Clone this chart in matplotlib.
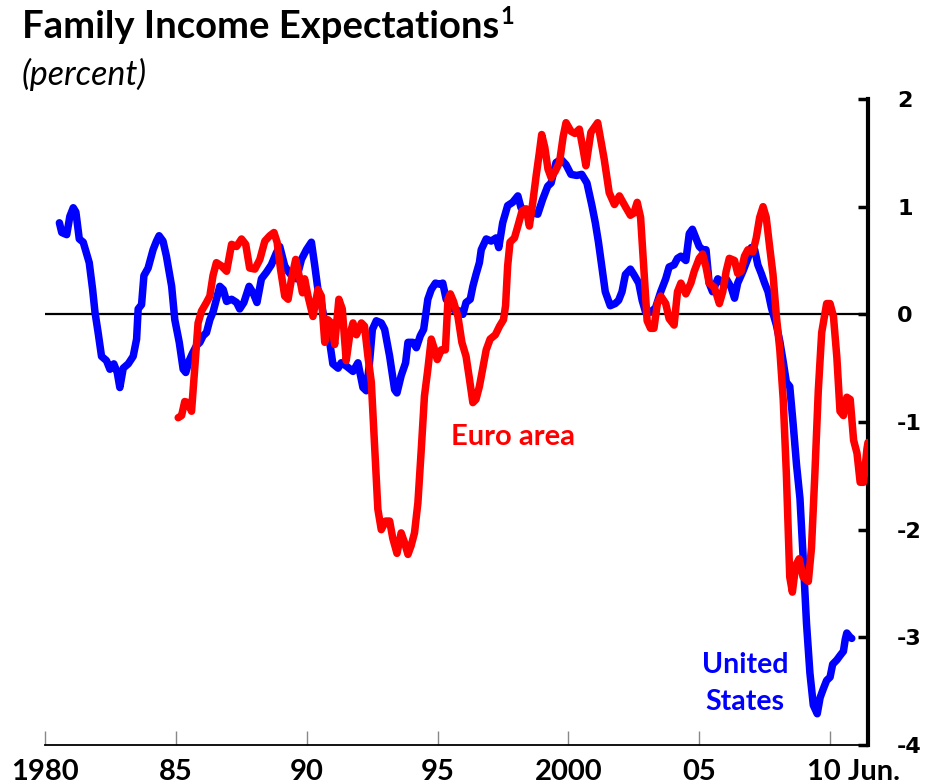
import matplotlib
matplotlib.use("Agg")
import matplotlib.pyplot as plt
import numpy as np

# ---------------- data ----------------
us_dates = [1980.55, 1980.64, 1980.83, 1980.95, 1981.08, 1981.18, 1981.31, 1981.46, 1981.69, 1981.82,
            1981.91, 1982.03, 1982.16, 1982.35, 1982.48, 1982.63, 1982.76, 1982.86, 1982.99, 1983.18,
            1983.37, 1983.50, 1983.56, 1983.69, 1983.78, 1983.94, 1984.13, 1984.26, 1984.36, 1984.51,
            1984.64, 1984.84, 1984.96, 1985.13, 1985.28, 1985.38, 1985.51, 1985.64, 1985.79, 1985.92,
            1986.04, 1986.17, 1986.30, 1986.42, 1986.55, 1986.68, 1986.81, 1986.94, 1987.13, 1987.32,
            1987.44, 1987.60, 1987.80, 1987.95, 1988.10, 1988.27, 1988.46, 1988.65, 1988.84, 1988.97,
            1989.16, 1989.29, 1989.42, 1989.61, 1989.80, 1989.99, 1990.18, 1990.31, 1990.43, 1990.56,
            1990.69, 1990.88, 1991.00, 1991.20, 1991.32, 1991.51, 1991.77, 1991.96, 1992.15, 1992.28,
            1992.40, 1992.51, 1992.66, 1992.85, 1992.98, 1993.17, 1993.36, 1993.45, 1993.61, 1993.78,
            1993.87, 1994.06, 1994.19, 1994.34, 1994.47, 1994.63, 1994.76, 1994.92, 1995.08, 1995.20,
            1995.33, 1995.58, 1995.84, 1995.97, 1996.09, 1996.25, 1996.35, 1996.47, 1996.60, 1996.67,
            1996.86, 1997.05, 1997.24, 1997.34, 1997.49, 1997.68, 1997.87, 1998.07, 1998.19, 1998.51,
            1998.83, 1999.02, 1999.21, 1999.34, 1999.53, 1999.72, 1999.91, 2000.10, 2000.32, 2000.51,
            2000.71, 2000.90, 2001.03, 2001.15, 2001.28, 2001.41, 2001.60, 2001.79, 2001.92, 2002.05,
            2002.18, 2002.37, 2002.50, 2002.69, 2002.82, 2002.95, 2003.14, 2003.33, 2003.53, 2003.72,
            2003.85, 2004.04, 2004.17, 2004.30, 2004.49, 2004.62, 2004.74, 2004.87, 2005.00, 2005.13,
            2005.26, 2005.38, 2005.51, 2005.71, 2005.90, 2006.03, 2006.22, 2006.35, 2006.47, 2006.67,
            2006.86, 2006.99, 2007.12, 2007.24, 2007.37, 2007.50, 2007.63, 2007.76, 2007.95, 2008.08,
            2008.21, 2008.33, 2008.46, 2008.59, 2008.72, 2008.85, 2008.97, 2009.10, 2009.23, 2009.36,
            2009.51, 2009.62, 2009.74, 2009.87, 2010.00, 2010.10, 2010.26, 2010.38, 2010.51, 2010.58,
            2010.64, 2010.77, 2010.83]
us_values = [0.85, 0.76, 0.74, 0.91, 0.99, 0.95, 0.70, 0.67, 0.48, 0.23,
             0.02, -0.17, -0.39, -0.43, -0.51, -0.46, -0.54, -0.68, -0.50, -0.46,
             -0.39, -0.23, 0.05, 0.09, 0.36, 0.43, 0.60, 0.68, 0.73, 0.68,
             0.54, 0.26, -0.05, -0.26, -0.51, -0.54, -0.43, -0.36, -0.29, -0.26,
             -0.20, -0.17, -0.05, 0.02, 0.14, 0.26, 0.23, 0.12, 0.14, 0.11,
             0.05, 0.11, 0.26, 0.20, 0.11, 0.33, 0.39, 0.46, 0.57, 0.63,
             0.45, 0.40, 0.36, 0.33, 0.51, 0.60, 0.67, 0.45, 0.23, 0.11,
             -0.08, -0.26, -0.46, -0.50, -0.45, -0.48, -0.53, -0.45, -0.68, -0.71,
             -0.45, -0.14, -0.06, -0.08, -0.14, -0.39, -0.70, -0.73, -0.57, -0.45,
             -0.26, -0.26, -0.31, -0.20, -0.14, 0.14, 0.23, 0.29, 0.28, 0.29,
             0.14, 0.05, 0.03, 0.00, 0.11, 0.14, 0.26, 0.37, 0.48, 0.60,
             0.70, 0.68, 0.71, 0.62, 0.85, 1.01, 1.04, 1.10, 0.99, 0.95,
             0.93, 1.07, 1.19, 1.22, 1.41, 1.44, 1.39, 1.30, 1.29, 1.30,
             1.22, 1.01, 0.85, 0.67, 0.44, 0.21, 0.08, 0.10, 0.13, 0.21,
             0.37, 0.42, 0.37, 0.29, 0.13, 0.02, 0.02, 0.06, 0.21, 0.33,
             0.44, 0.46, 0.52, 0.54, 0.50, 0.75, 0.79, 0.71, 0.63, 0.60,
             0.60, 0.29, 0.21, 0.33, 0.29, 0.33, 0.25, 0.15, 0.29, 0.40,
             0.52, 0.62, 0.60, 0.46, 0.38, 0.29, 0.21, 0.06, -0.10, -0.25,
             -0.44, -0.63, -0.67, -1.02, -1.40, -1.71, -2.25, -2.87, -3.33, -3.63,
             -3.71, -3.56, -3.48, -3.40, -3.37, -3.25, -3.21, -3.17, -3.13, -3.02,
             -2.96, -3.00, -3.01]

ea_dates = [1985.09, 1985.22, 1985.34, 1985.47, 1985.60, 1985.73, 1985.85, 1985.98, 1986.17, 1986.30,
            1986.42, 1986.55, 1986.74, 1986.94, 1987.13, 1987.32, 1987.51, 1987.67, 1987.82, 1988.02,
            1988.21, 1988.40, 1988.59, 1988.75, 1988.87, 1989.00, 1989.16, 1989.29, 1989.42, 1989.58,
            1989.71, 1989.84, 1989.92, 1990.05, 1990.24, 1990.43, 1990.56, 1990.69, 1990.81, 1990.94,
            1991.07, 1991.23, 1991.36, 1991.51, 1991.64, 1991.77, 1991.90, 1992.09, 1992.21, 1992.34,
            1992.47, 1992.60, 1992.72, 1992.85, 1993.02, 1993.17, 1993.29, 1993.45, 1993.61, 1993.74,
            1993.87, 1993.99, 1994.12, 1994.25, 1994.38, 1994.50, 1994.63, 1994.76, 1994.89, 1994.99,
            1995.14, 1995.30, 1995.40, 1995.49, 1995.61, 1995.78, 1995.93, 1996.09, 1996.22, 1996.35,
            1996.47, 1996.60, 1996.77, 1996.86, 1997.01, 1997.21, 1997.37, 1997.52, 1997.60, 1997.68,
            1997.77, 1997.94, 1998.07, 1998.23, 1998.39, 1998.51, 1998.64, 1998.77, 1998.89, 1998.98,
            1999.10, 1999.22, 1999.34, 1999.50, 1999.66, 1999.80, 1999.91, 2000.10, 2000.25, 2000.42,
            2000.55, 2000.67, 2000.86, 2001.12, 2001.37, 2001.56, 2001.76, 2001.95, 2002.18, 2002.37,
            2002.50, 2002.63, 2002.76, 2002.88, 2003.01, 2003.14, 2003.27, 2003.40,
            2003.53, 2003.72, 2003.85, 2004.04, 2004.17, 2004.30, 2004.49, 2004.68, 2004.81, 2005.00,
            2005.13, 2005.26, 2005.38, 2005.58, 2005.77, 2005.90, 2006.03, 2006.15, 2006.35, 2006.47,
            2006.60, 2006.73, 2006.86, 2007.05, 2007.18, 2007.31, 2007.44, 2007.56, 2007.69, 2007.82,
            2007.95, 2008.08, 2008.21, 2008.33, 2008.46, 2008.56, 2008.69, 2008.82, 2008.97, 2009.17,
            2009.29, 2009.42, 2009.55, 2009.68, 2009.87, 2010.00, 2010.13, 2010.26, 2010.38, 2010.51,
            2010.64, 2010.77, 2010.90, 2011.03, 2011.15, 2011.28, 2011.41, 2011.45]
ea_values = [-0.96, -0.94, -0.81, -0.82, -0.90, -0.48, -0.08, 0.03, 0.11, 0.17,
             0.36, 0.48, 0.45, 0.40, 0.65, 0.63, 0.70, 0.65, 0.43, 0.42,
             0.51, 0.68, 0.73, 0.76, 0.67, 0.42, 0.17, 0.14, 0.33, 0.51,
             0.36, 0.20, 0.33, 0.17, -0.02, 0.23, 0.17, -0.26, -0.05, -0.08,
             -0.28, 0.14, 0.05, -0.43, -0.20, -0.08, -0.19, -0.08, -0.11, -0.39,
             -0.63, -1.25, -1.81, -2.00, -1.92, -1.92, -2.08, -2.22, -2.03, -2.12,
             -2.23, -2.15, -2.03, -1.75, -1.25, -0.76, -0.51, -0.23, -0.33, -0.42,
             -0.33, -0.33, 0.14, 0.19, 0.12, -0.02, -0.26, -0.39, -0.60, -0.82,
             -0.79, -0.67, -0.45, -0.33, -0.23, -0.19, -0.11, -0.05, 0.08, 0.45,
             0.67, 0.71, 0.82, 0.96, 0.98, 0.82, 1.04, 1.29, 1.50, 1.67,
             1.55, 1.35, 1.27, 1.33, 1.41, 1.65, 1.78, 1.70, 1.68, 1.72,
             1.55, 1.38, 1.69, 1.78, 1.44, 1.13, 1.02, 1.10, 1.00, 0.92,
             0.94, 1.04, 0.90, 0.44, -0.06, -0.13, -0.13, 0.10,
             0.17, 0.10, -0.04, -0.10, 0.21, 0.29, 0.19, 0.29, 0.40, 0.52,
             0.56, 0.44, 0.29, 0.25, 0.10, 0.21, 0.40, 0.52, 0.50, 0.38,
             0.40, 0.54, 0.60, 0.58, 0.71, 0.90, 1.00, 0.90, 0.63, 0.37,
             -0.02, -0.33, -0.79, -1.48, -2.44, -2.58, -2.33, -2.27, -2.44, -2.48,
             -2.17, -1.48, -0.71, -0.17, 0.10, 0.10, -0.02, -0.40, -0.90, -0.94,
             -0.77, -0.79, -1.17, -1.29, -1.56, -1.56, -1.25, -1.19]

x_ticks = [1980, 1985, 1990, 1995, 2000, 2005, 2010]
x_ticklabels = ["1980", "85", "90", "95", "2000", "05", ""]
y_ticks = [-4, -3, -2, -1, 0, 1, 2]
y_ticklabels = ["-4", "-3", "-2", "-1", "0", "1", "2"]

# ---------------- figure ----------------
W, H = 941, 784
fig = plt.figure(figsize=(W / 100, H / 100), dpi=100)
ax = fig.add_axes([45 / W, 1 - 745 / H, (868 - 45) / W, (745 - 99) / H])

FONT = ['Lato', 'DejaVu Sans']

ax.axhline(0, color='black', lw=1.6, zorder=1)
ax.plot(us_dates, us_values, color='#0000FF', lw=5.4, solid_joinstyle='round',
        solid_capstyle='round', zorder=2)
ax.plot(ea_dates, ea_values, color='#FF0000', lw=5.4, solid_joinstyle='round',
        solid_capstyle='round', zorder=3)

ax.set_xlim(1980, 2011.45)
ax.set_ylim(-4, 2)

for s in ['left', 'top']:
    ax.spines[s].set_visible(False)
ax.spines['right'].set_linewidth(3.0)
ax.spines['bottom'].set_linewidth(1.3)

ax.yaxis.tick_right()
ax.set_yticks(y_ticks)
ax.set_yticklabels(y_ticklabels)
ax.tick_params(axis='y', direction='in', length=7.5, width=2.5, pad=21, colors='black')
for lab in ax.get_yticklabels():
    lab.set_fontfamily(['DejaVu Sans'])
    lab.set_fontweight('bold')
    lab.set_fontsize(16)
    lab.set_horizontalalignment('left')

ax.set_xticks(x_ticks)
ax.set_xticklabels(x_ticklabels)
ax.tick_params(axis='x', direction='in', length=10, width=1.0, color='#888888', pad=10,
               labelcolor='black')
for lab in ax.get_xticklabels():
    lab.set_fontfamily(FONT)
    lab.set_fontweight('bold')
    lab.set_fontsize(21)

ax.annotate("10 Jun.", xy=(2010, 0), xycoords=('data', 'axes fraction'),
            xytext=(-16.5, -10), textcoords='offset points', ha='left', va='top',
            fontsize=21, fontweight='bold', family=FONT)

# series labels
ax.text(1997.88, -1.14, "Euro area", color='#FF0000', fontsize=21, fontweight='bold',
        family=FONT, ha='center', va='center')
ax.text(2006.76, -3.43, "United\nStates", color='#0000FF', fontsize=20.5, fontweight='bold',
        family=FONT, ha='center', va='center', linespacing=1.5)

# title
t = fig.text(22 / W, 1 - 38 / H, "Family Income Expectations", fontsize=27.5,
             fontweight='bold', family=FONT, va='baseline', ha='left')
fig.canvas.draw()
bb = t.get_window_extent()
fig.text((bb.x1 + 1) / W, 1 - 24 / H, "1", fontsize=17, fontweight='bold', family=FONT,
         va='baseline', ha='left')
fig.text(22 / W, 1 - 85 / H, "(percent)", fontsize=24.5, fontstyle='italic', family=FONT,
         va='baseline', ha='left')

fig.savefig("out.png", dpi=100)
